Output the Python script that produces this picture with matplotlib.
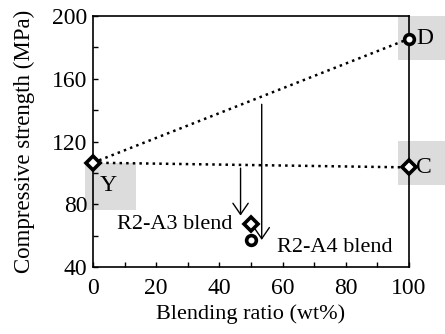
import matplotlib.pyplot as plt
from matplotlib.patches import Rectangle

plt.rcParams['font.family'] = ['Liberation Serif', 'DejaVu Serif']

# data (wt%, MPa)
ref_names = ["Y", "D", "C"]
ref_x = [0, 100, 100]
ref_y = [106.5, 185.5, 103.5]
ref_marker = ["D", "o", "D"]

blend_names = ["R2-A3 blend", "R2-A4 blend"]
blend_x = [50, 50]
blend_y = [67.5, 57.5]
blend_marker = ["D", "o"]

# arrows: x, start, end
arrow_x = [46.7, 53.4]
arrow_y0 = [104.8, 145.5]
arrow_y1 = [71.0, 55.5]

fig = plt.figure(figsize=(4.45, 3.34), dpi=100)
ax = fig.add_axes([0.209, 0.2006, 0.71, 0.7514])

# gray label boxes
gray = "#dcdcdc"
boxes = [(-2.5, 76.5, 16.1, 30.0), (96.5, 172.0, 16, 28.0), (96.5, 92.0, 16, 28.5)]
for bx, by, bw, bh in boxes:
    ax.add_patch(Rectangle((bx, by), bw, bh, facecolor=gray, edgecolor="none",
                           clip_on=False, zorder=0))

# dotted lines Y->D and Y->C
ax.plot([ref_x[0], ref_x[1]], [ref_y[0], ref_y[1]], ls=":", color="black", lw=1.8, zorder=2)
ax.plot([ref_x[0], ref_x[2]], [ref_y[0], ref_y[2]], ls=":", color="black", lw=1.8, zorder=2)

for x, y, m in zip(ref_x + blend_x, ref_y + blend_y, ref_marker + blend_marker):
    ms = 7 if m == "o" else 7.5
    ax.plot(x, y, marker=m, ms=ms, mfc="white", mec="black", mew=2.6,
            clip_on=False, zorder=4)

for x, y0, y1 in zip(arrow_x, arrow_y0, arrow_y1):
    ax.annotate("", xy=(x, y1), xytext=(x, y0),
                arrowprops=dict(arrowstyle="->,head_length=0.8,head_width=0.55",
                                color="black", lw=1.0))

ax.text(4.8, 92, ref_names[0], fontsize=17, ha="center", va="center")
ax.text(102.3, 185.5, ref_names[1], fontsize=17, ha="left", va="center", clip_on=False)
ax.text(102.3, 103.5, ref_names[2], fontsize=17, ha="left", va="center", clip_on=False)
ax.text(44, 66.8, blend_names[0], fontsize=16, ha="right", va="center")
ax.text(58.2, 52.7, blend_names[1], fontsize=16, ha="left", va="center")

ax.set_xlim(0, 100)
ax.set_ylim(40, 200)
ax.set_xticks([0, 20, 40, 60, 80, 100])
ax.set_xticks(range(10, 100, 20), minor=True)
ax.set_yticks([40, 80, 120, 160, 200])
ax.set_yticks([60, 100, 140, 180], minor=True)
ax.tick_params(which="both", direction="in", length=3.5, width=1, labelsize=17,
               top=False, right=False)
ax.tick_params(axis="x", pad=8)
ax.tick_params(axis="y", pad=4)
for s in ax.spines.values():
    s.set_linewidth(1.2)

ax.set_xlabel("Blending ratio (wt%)", fontsize=16, labelpad=4)
ax.set_ylabel("Compressive strength (MPa)", fontsize=16.5, labelpad=12)

fig.savefig("out.png", dpi=100)
